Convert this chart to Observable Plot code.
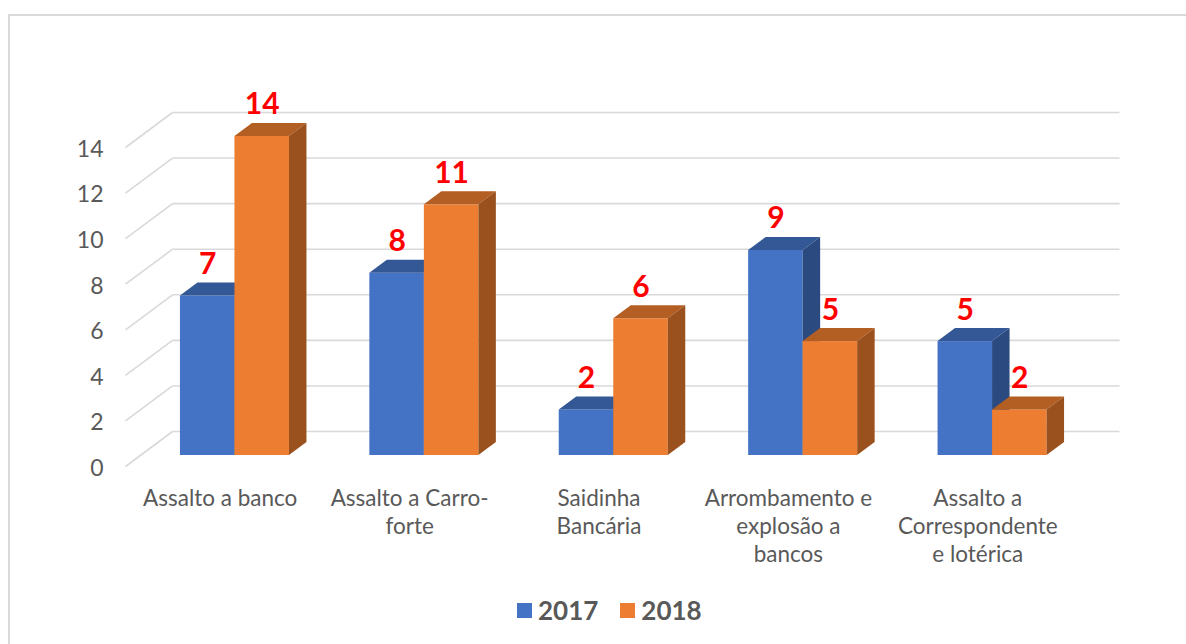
<!DOCTYPE html>
<html><head><meta charset="utf-8">
<script src="https://cdn.jsdelivr.net/npm/d3@7"></script>
<script src="https://cdn.jsdelivr.net/npm/@observablehq/plot@0.6"></script>
<style>
html,body{margin:0;padding:0;background:#fff;width:1186px;height:644px;overflow:hidden;font-family:Lato,sans-serif;}
#frame{position:absolute;left:8px;top:14px;width:1300px;height:800px;border:2px solid #d9d9d9;box-sizing:border-box;}
#chart{position:absolute;left:0;top:0;}
#legend{position:absolute;left:517px;top:594px;display:flex;align-items:center;font:bold 26px Lato,sans-serif;color:#595959;}
#legend .item{display:flex;align-items:center;margin-right:22px;}
#legend .sw{width:15px;height:15px;display:inline-block;margin-right:6px;}
</style></head><body>
<div id="frame"></div>
<div id="chart"></div>
<div id="legend"></div>
<script>
// ---- data ----
const categories = ["Assalto a banco", "Assalto a Carro-\nforte", "Saidinha\nBancária", "Arrombamento e\nexplosão a\nbancos", "Assalto a\nCorrespondente\ne lotérica"];
const seriesNames = ["2017", "2018"];
const values2017 = [7, 8, 2, 9, 5];
const values2018 = [14, 11, 6, 5, 2];
const yTicks = [0, 2, 4, 6, 8, 10, 12, 14];

// ---- style ----
const colors = {
  "2017": {front: "#4472C4", top: "#345896", side: "#2B4A80"},
  "2018": {front: "#ED7D31", top: "#B35E22", side: "#9A511E"}
};
const DX = 0.2482;  // depth shift in category units (full floor depth)
const DY = 1.536;   // depth shift in value units (full floor depth)
const Z0 = 0.314, Z1 = 0.686; // bar front / back depth
const BW = 0.2878;  // bar width in category units

const seriesValues = [values2017, values2018];
const bars = [];
seriesNames.forEach((s, k) => {
  seriesValues[k].forEach((v, i) => {
    const xl = i + 0.5 + (k - 1) * BW;
    bars.push({s, i, v, xl, xr: xl + BW, key: s + "-" + i});
  });
});

function faces(s) {
  const b = bars.filter(d => d.s === s);
  const front = b.map(d => ({x1: d.xl + Z0 * DX, x2: d.xr + Z0 * DX, y1: Z0 * DY, y2: d.v + Z0 * DY}));
  const top = b.flatMap(d => [Z0, Z1].map(z => ({key: d.key, y: d.v + z * DY, x1: d.xl + z * DX, x2: d.xr + z * DX})));
  const side = b.flatMap(d => [Z0, Z1].map(z => ({key: d.key, x: d.xr + z * DX, y1: z * DY, y2: d.v + z * DY})));
  const c = colors[s];
  return [
    Plot.rect(front, {x1: "x1", x2: "x2", y1: "y1", y2: "y2", fill: c.front}),
    Plot.areaX(top, {y: "y", x1: "x1", x2: "x2", z: "key", fill: c.top, curve: "linear"}),
    Plot.areaY(side, {x: "x", y1: "y1", y2: "y2", z: "key", fill: c.side, curve: "linear"})
  ];
}

const grid = "#d9d9d9";
const chart = Plot.plot({
  width: 1186, height: 580,
  marginLeft: 125, marginRight: 114, marginTop: 147, marginBottom: 114,
  x: {domain: [0, categories.length], axis: null},
  y: {domain: [0, 14], axis: null},
  style: {fontFamily: "Lato, sans-serif", background: "transparent", overflow: "visible"},
  marks: [
    // left wall diagonals
    Plot.link(yTicks, {x1: () => 0, y1: t => t, x2: () => DX, y2: t => t + DY, stroke: grid, strokeWidth: 1.6}),
    // back wall gridlines
    Plot.link(yTicks, {x1: () => DX, y1: t => t + DY, x2: () => categories.length + DX, y2: t => t + DY, stroke: grid, strokeWidth: 1.6}),
    // y labels
    Plot.text(yTicks, {x: () => 0, y: t => t, text: t => String(t), textAnchor: "end", dx: -22, dy: 2, fill: "#595959", fontSize: 23}),
    // category labels
    Plot.text(categories, {x: (d, i) => i + 0.5, y: () => 0, text: d => d, lineAnchor: "top", lineHeight: 1.25, dy: 19.5, fill: "#595959", fontSize: 22.5}),
    ...faces("2017"),
    ...faces("2018"),
    // value labels
    Plot.text(bars, {x: d => d.xl + BW / 2 + Z0 * DX, y: d => d.v + Z1 * DY, text: d => String(d.v), lineAnchor: "bottom", dy: -9, fill: "#FF0000", fontWeight: "bold", fontSize: 30})
  ]
});
document.getElementById("chart").appendChild(chart);

const legend = document.getElementById("legend");
seriesNames.forEach(s => {
  const item = document.createElement("span");
  item.className = "item";
  const sw = document.createElement("span");
  sw.className = "sw";
  sw.style.background = colors[s].front;
  item.appendChild(sw);
  item.appendChild(document.createTextNode(s));
  legend.appendChild(item);
});
</script>
</body></html>
